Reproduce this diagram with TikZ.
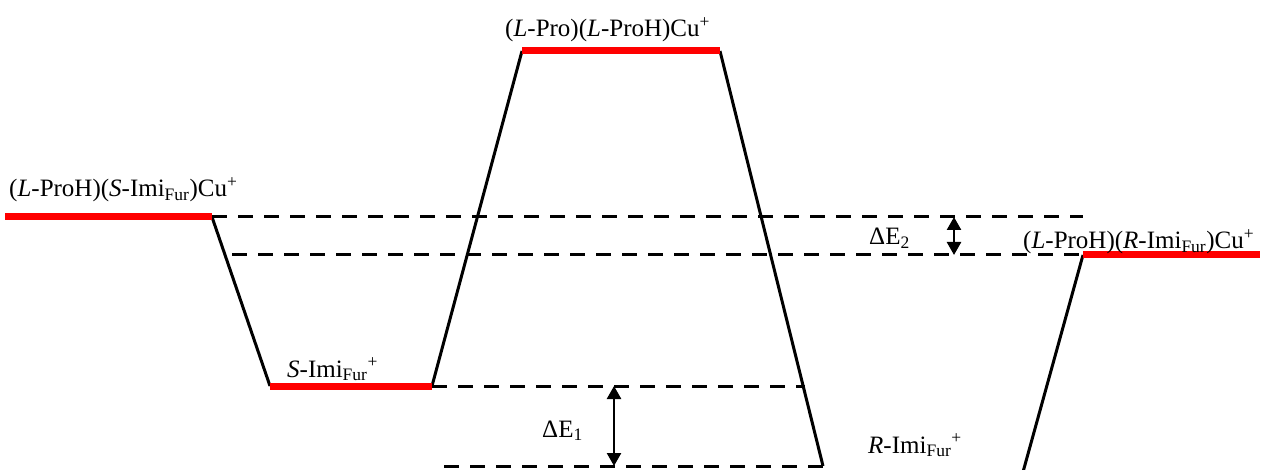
\documentclass[tikz,border=0pt]{standalone}
\usepackage{fontspec}
\setmainfont{Liberation Serif}
\usetikzlibrary{arrows.meta}
\begin{document}
\begin{tikzpicture}[x=1pt,y=-1pt,
  level/.style={line width=7pt, red},
  conn/.style={line width=3pt, black, line join=miter},
  guide/.style={line width=3pt, black, dash pattern=on 15pt off 11pt},
  gaparrow/.style={line width=2.5pt, black, {Triangle[length=13pt,width=14pt]}-{Triangle[length=13pt,width=14pt]}},
  lbl/.style={font=\fontsize{25}{28}\selectfont, inner sep=0pt, anchor=base west}]
\useasboundingbox (0,0) rectangle (1266,470);
% level end points
\coordinate (A1) at (5,217);   \coordinate (A2) at (212,217);
\coordinate (B1) at (270,386); \coordinate (B2) at (432,386);
\coordinate (C1) at (522,51);  \coordinate (C2) at (720,51);
\coordinate (D1) at (1083,255);\coordinate (D2) at (1260,255);
\coordinate (Cend) at (823,466);
\coordinate (Dend) at (1023,472);
% guide end points
\coordinate (g1e) at (1083,217);
\coordinate (g2s) at (232,255);
\coordinate (g3e) at (805,386);
\coordinate (g4s) at (444,466);
\coordinate (e1t) at (614,386); \coordinate (e1b) at (614,466);
\coordinate (e2t) at (954,217); \coordinate (e2b) at (954,255);
% guides
\draw[guide] (A2) -- (g1e);
\draw[guide] (g2s) -- (D1);
\draw[guide] (B2) -- (g3e);
\draw[guide] (g4s) -- (Cend);
% connectors
\draw[conn] (A2) -- (B1);
\draw[conn] (B2) -- (C1);
\draw[conn] (C2) -- (Cend);
\draw[conn] (D1) -- (Dend);
% levels
\draw[level] (A1) -- (A2);
\draw[level] (B1) -- (B2);
\draw[level] (C1) -- (C2);
\draw[level] (D1) -- (D2);
% gaps
\draw[gaparrow] (e1t) -- (e1b);
\draw[gaparrow] (e2t) -- (e2b);
% labels
\node[lbl] (lA) at (9,197) {(\textit{L}-ProH)(\textit{S}-Imi\textsubscript{Fur})Cu\textsuperscript{+}};
\node[lbl] (lC) at (505,37) {(\textit{L}-Pro)(\textit{L}-ProH)Cu\textsuperscript{+}};
\node[lbl] (lD) at (1023,249) {(\textit{L}-ProH)(\textit{R}-Imi\textsubscript{Fur})Cu\textsuperscript{+}};
\node[lbl] (lB) at (287,377) {\textit{S}-Imi\textsubscript{Fur}\textsuperscript{+}};
\node[lbl] (lR) at (868,453) {\textit{R}-Imi\textsubscript{Fur}\textsuperscript{+}};
\node[lbl] (lE1) at (542,437) {ΔE\textsubscript{1}};
\node[lbl] (lE2) at (869,245) {ΔE\textsubscript{2}};
\end{tikzpicture}
\end{document}
